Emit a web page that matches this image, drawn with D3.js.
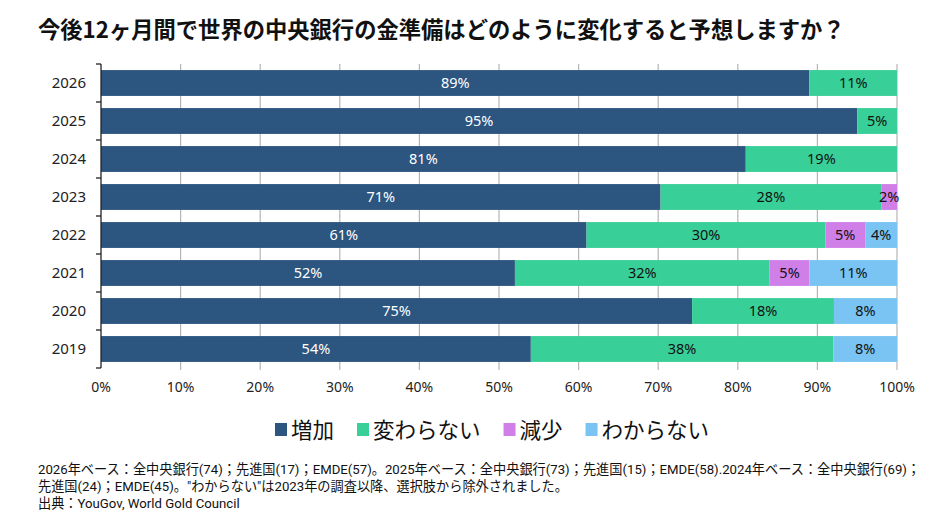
<!DOCTYPE html>
<meta charset="utf-8">
<style>
    body { margin: 0; background: #fff; }
    svg { font-family: "Noto Sans", "Noto Sans CJK JP", sans-serif; }
    .jp { font-family: "Noto Sans CJK JP", "Noto Sans", sans-serif; }
    .note { font-family: Roboto, "Noto Sans CJK JP", sans-serif; }
</style>
<svg width="944" height="518"></svg>
<script src="https://d3js.org/d3.v7.min.js"></script>
<script>
    // survey years, top to bottom
    const years = ["2026", "2025", "2024", "2023", "2022", "2021", "2020", "2019"];
    const seriesNames = ["増加", "変わらない", "減少", "わからない"];
    const seriesColors = ["#2c5580", "#38cf98", "#d07fe9", "#79c4f3"];

    // values in %, one array per series (same order as years)
    const increase  = [89, 95, 81, 71, 61, 52, 75, 54];
    const unchanged = [11, 5, 19, 28, 30, 32, 18, 38];
    const decrease  = [0, 0, 0, 2, 5, 5, 0, 0];
    const unknown   = [0, 0, 0, 0, 4, 11, 8, 8];

    const xTicks = [0, 0.1, 0.2, 0.3, 0.4, 0.5, 0.6, 0.7, 0.8, 0.9, 1];

    const titleText = "今後12ヶ月間で世界の中央銀行の金準備はどのように変化すると予想しますか？";
    const notes = [
        "2026年ベース：全中央銀行(74)；先進国(17)；EMDE(57)。2025年ベース：全中央銀行(73)；先進国(15)；EMDE(58).2024年ベース：全中央銀行(69)；",
        "先進国(24)；EMDE(45)。\"わからない\"は2023年の調査以降、選択肢から除外されました。",
        "出典：YouGov, World Gold Council"
    ];

    const svg = d3.select("svg");

    // table built from the arrays, rows normalised to 100%
    const allSeries = [increase, unchanged, decrease, unknown];
    const rows = years.map((y, i) => {
        const row = { year: y };
        const total = d3.sum(allSeries, s => s[i]);
        seriesNames.forEach((n, k) => { row[n] = allSeries[k][i] / total; row[n + "_raw"] = allSeries[k][i]; });
        return row;
    });

    const stack = d3.stack().keys(seriesNames);
    const stacked = stack(rows);

    const x = d3.scaleLinear().domain([0, 1]).range([101, 897]);
    const y = d3.scaleBand().domain(years).range([64, 368]).paddingInner(0.32).paddingOuter(0.16);

    // title
    svg.append("text")
        .attr("class", "jp")
        .attr("x", 38).attr("y", 38)
        .attr("font-size", 22.3).attr("font-weight", "bold")
        .attr("fill", "#111")
        .text(titleText);

    // gridlines
    svg.append("g")
        .selectAll("line")
        .data(xTicks.slice(1))
        .enter().append("line")
        .attr("x1", d => x(d)).attr("x2", d => x(d))
        .attr("y1", 64).attr("y2", 370)
        .attr("stroke", "#b5b5b5").attr("stroke-width", 1.2);

    // bars
    const layer = svg.append("g")
        .selectAll("g")
        .data(stacked)
        .enter().append("g")
        .attr("fill", (d, i) => seriesColors[i]);

    layer.selectAll("rect")
        .data(d => d)
        .enter().append("rect")
        .attr("x", d => x(d[0]))
        .attr("width", d => x(d[1]) - x(d[0]))
        .attr("y", d => y(d.data.year))
        .attr("height", y.bandwidth());

    // bar labels
    stacked.forEach((s, k) => {
        svg.append("g")
            .selectAll("text")
            .data(s.filter(d => d.data[s.key + "_raw"] > 0))
            .enter().append("text")
            .attr("x", d => (x(d[0]) + x(d[1])) / 2)
            .attr("y", d => y(d.data.year) + y.bandwidth() / 2)
            .attr("dy", "0.35em")
            .attr("text-anchor", "middle")
            .attr("font-size", 14.5)
            .attr("fill", k === 0 ? "#fff" : "#111")
            .text(d => d.data[s.key + "_raw"] + "%");
    });

    // y axis: line with ticks at band boundaries
    const yAxis = svg.append("g");
    yAxis.append("line")
        .attr("x1", 101).attr("x2", 101)
        .attr("y1", 64).attr("y2", 368)
        .attr("stroke", "#222").attr("stroke-width", 1.3);
    yAxis.selectAll("line.tk")
        .data(d3.range(years.length + 1))
        .enter().append("line")
        .attr("class", "tk")
        .attr("x1", 96).attr("x2", 101)
        .attr("y1", i => 64 + i * y.step())
        .attr("y2", i => 64 + i * y.step())
        .attr("stroke", "#222").attr("stroke-width", 1.3);
    yAxis.selectAll("text")
        .data(years)
        .enter().append("text")
        .attr("x", 86)
        .attr("y", d => y(d) + y.bandwidth() / 2)
        .attr("dy", "0.35em")
        .attr("text-anchor", "end")
        .attr("font-size", 15)
        .attr("fill", "#222")
        .text(d => d);

    // x tick labels
    svg.append("g")
        .selectAll("text")
        .data(xTicks)
        .enter().append("text")
        .attr("x", d => x(d))
        .attr("y", 387)
        .attr("dy", "0.35em")
        .attr("text-anchor", "middle")
        .attr("font-size", 14)
        .attr("fill", "#222")
        .text(d => d3.format(".0%")(d));

    // legend
    const legend = svg.append("g").attr("class", "jp");
    let lx = 275;
    seriesNames.forEach((n, i) => {
        legend.append("rect")
            .attr("x", lx).attr("y", 423)
            .attr("width", 12).attr("height", 13)
            .attr("fill", seriesColors[i]);
        const t = legend.append("text")
            .attr("x", lx + 16).attr("y", 430)
            .attr("dy", "0.35em")
            .attr("font-size", 21.5)
            .attr("fill", "#111")
            .text(n);
        lx += 16 + t.node().getComputedTextLength() + 23;
    });

    // footnotes
    svg.append("g")
        .attr("class", "note")
        .selectAll("text")
        .data(notes)
        .enter().append("text")
        .attr("x", 38)
        .attr("y", (d, i) => 474 + i * 17)
        .attr("font-size", 13.2)
        .attr("fill", "#111")
        .text(d => d);
</script>
<body>
</body>
